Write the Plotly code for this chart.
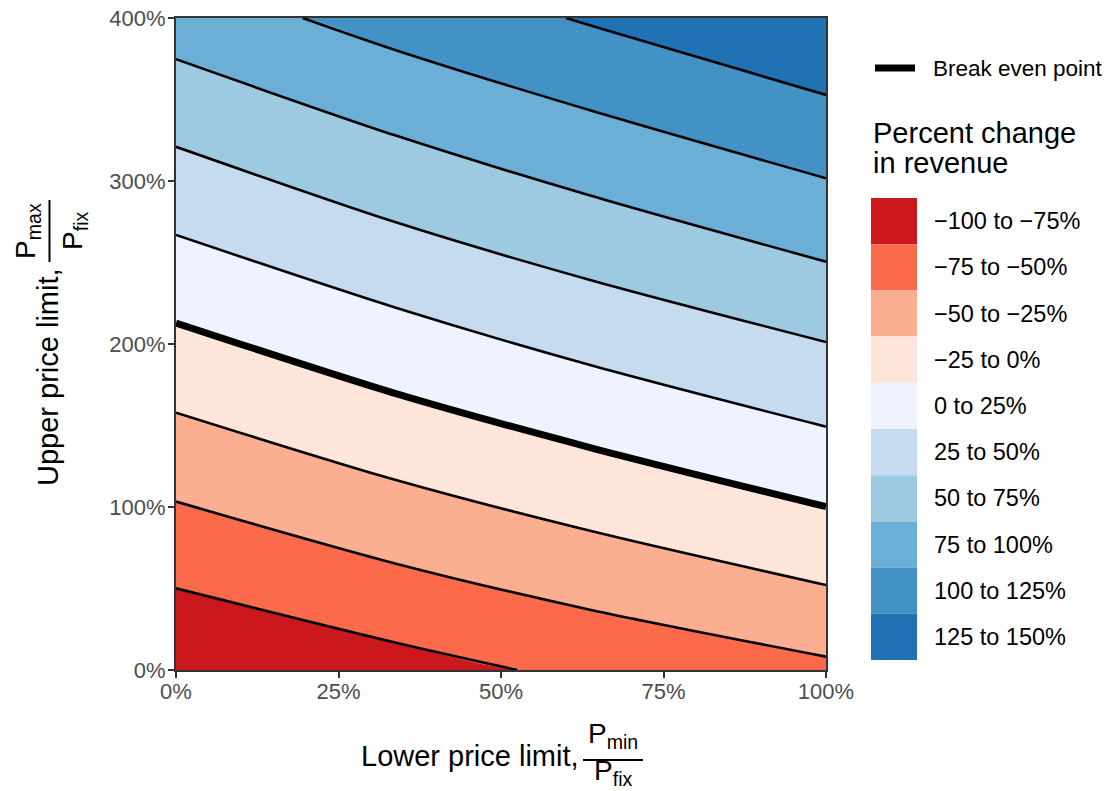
import plotly.graph_objects as go

# ---------------- data ----------------
# contour levels (percent change in revenue)
levels = [-75, -50, -25, 0, 25, 50, 75, 100, 125]

# contour lines: x = lower price limit (%), y = upper price limit (%)
line_m75_x = [0, 33.7, 52.5]
line_m75_y = [50.1, 16.9, 0.0]
line_m50_x = [0, 33.7, 63.7, 100]
line_m50_y = [103.3, 65.4, 37.0, 8.2]
line_m25_x = [0, 33.7, 63.7, 100]
line_m25_y = [157.9, 116.7, 85.4, 52.1]
line_0_x = [0, 33.7, 63.7, 100]
line_0_y = [212.9, 169.7, 136.5, 100.2]
line_25_x = [0, 33.7, 63.7, 100]
line_25_y = [266.9, 222.4, 187.1, 149.3]
line_50_x = [0, 33.7, 63.7, 100]
line_50_y = [321.0, 274.8, 239.3, 201.2]
line_75_x = [0, 33.7, 63.7, 100]
line_75_y = [374.7, 328.0, 291.1, 250.5]
line_100_x = [19.5, 33.7, 63.7, 100]
line_100_y = [400.0, 380.4, 343.4, 301.7]
line_125_x = [60.0, 65.2, 100]
line_125_y = [400.0, 393.7, 352.8]

band_labels = ["\u2212100 to \u221275%", "\u221275 to \u221250%", "\u221250 to \u221225%",
               "\u221225 to 0%", "0 to 25%", "25 to 50%", "50 to 75%",
               "75 to 100%", "100 to 125%", "125 to 150%"]
band_colors = ["#CB181D", "#FB6A4A", "#FCAE91", "#FEE5D9", "#EFF3FF",
               "#C6DBEF", "#9ECAE1", "#6BAED6", "#4292C6", "#2171B5"]

x_ticks = [0, 25, 50, 75, 100]
x_tick_text = ["0%", "25%", "50%", "75%", "100%"]
y_ticks = [0, 100, 200, 300, 400]
y_tick_text = ["0%", "100%", "200%", "300%", "400%"]
X_MIN, X_MAX = 0, 100
Y_MIN, Y_MAX = 0, 400

lines = [
    (line_m75_x, line_m75_y), (line_m50_x, line_m50_y), (line_m25_x, line_m25_y),
    (line_0_x, line_0_y), (line_25_x, line_25_y), (line_50_x, line_50_y),
    (line_75_x, line_75_y), (line_100_x, line_100_y), (line_125_x, line_125_y),
]

FONT = "Liberation Sans, Arial, Helvetica, sans-serif"


def clipped(xs, ys):
    """Extend a contour line along the panel frame so it spans the full x range."""
    xs, ys = list(xs), list(ys)
    if xs[0] > X_MIN:
        xs = [X_MIN] + xs
        ys = [ys[0]] + ys
    if xs[-1] < X_MAX:
        xs = xs + [X_MAX]
        ys = ys + [ys[-1]]
    return xs, ys


fig = go.Figure()

# base fill (top band)
fig.add_trace(go.Scatter(x=[X_MIN, X_MAX], y=[Y_MAX, Y_MAX], mode="lines",
                         line=dict(width=0, color=band_colors[-1]),
                         fill="tozeroy", fillcolor=band_colors[-1],
                         showlegend=False, hoverinfo="skip"))

# fill below each contour line with the colour of the band below it (top -> bottom)
for i in range(len(levels) - 1, -1, -1):
    xs, ys = clipped(*lines[i])
    fig.add_trace(go.Scatter(x=xs, y=ys, mode="lines",
                             line=dict(width=0, shape="spline", smoothing=0.8,
                                       color=band_colors[i]),
                             fill="tozeroy", fillcolor=band_colors[i],
                             showlegend=False, hoverinfo="skip"))

# contour strokes
for lev, (xs, ys) in zip(levels, lines):
    fig.add_trace(go.Scatter(x=xs, y=ys, mode="lines",
                             line=dict(color="black", width=7 if lev == 0 else 2.6,
                                       shape="spline", smoothing=0.8),
                             showlegend=False, hoverinfo="skip"))


# pixel positions below are screenshot coordinates; plot panel spans x 176..826, y 18..670
def px_x(p):
    return (p - 176) / 650


def px_y(p):
    return (670 - p) / 652


shapes = []
annotations = []


def note(text, x, y, size, xanchor="center", angle=0):
    annotations.append(dict(text=text, x=px_x(x), y=px_y(y), xref="paper", yref="paper",
                            textangle=angle, showarrow=False, xanchor=xanchor,
                            yanchor="middle", align="left",
                            font=dict(size=size, color="black", family=FONT)))


# y-axis title
note("Upper price limit,", 48, 377, 29, angle=-90)
note("P<sub>max</sub>", 27, 231, 28, angle=-90)
note("P<sub>fix</sub>", 74, 231, 28, angle=-90)
shapes.append(dict(type="line", xref="paper", yref="paper", x0=px_x(49.5), x1=px_x(49.5),
                   y0=px_y(200), y1=px_y(262), line=dict(color="black", width=2)))

# x-axis title
note("Lower price limit,", 470, 756, 29)
note("P<sub>min</sub>", 613, 735, 28)
note("P<sub>fix</sub>", 613, 772, 28)
shapes.append(dict(type="line", xref="paper", yref="paper", x0=px_x(583), x1=px_x(643),
                   y0=px_y(760), y1=px_y(760), line=dict(color="black", width=2)))

# legend: break even
shapes.append(dict(type="line", xref="paper", yref="paper", x0=px_x(875), x1=px_x(915),
                   y0=px_y(68), y1=px_y(68), line=dict(color="black", width=7)))
note("Break even point", 931, 68, 22.5, xanchor="left")

# legend: title
note("Percent change", 871, 133, 29, xanchor="left")
note("in revenue", 871, 163, 29, xanchor="left")

# legend: colour keys
key_top = 198
key_h = 46.2
for i, (lab, col) in enumerate(zip(band_labels, band_colors)):
    t = key_top + key_h * i
    shapes.append(dict(type="rect", xref="paper", yref="paper", x0=px_x(871), x1=px_x(917),
                       y0=px_y(t + key_h), y1=px_y(t), fillcolor=col, line=dict(width=0)))
    note(lab, 932, t + key_h / 2, 23.5, xanchor="left")

axis_common = dict(showgrid=False, zeroline=False, showline=True, mirror=True,
                   linecolor="#333333", linewidth=2, ticks="outside", ticklen=6,
                   tickwidth=2, tickcolor="#333333", tickmode="array",
                   ticklabeloverflow="allow",
                   tickfont=dict(size=22, color="#4D4D4D", family=FONT), automargin=False)

# the page adds an 8px body margin, so the figure is shrunk by 8px on each axis
fig.update_layout(
    width=1107, height=783,
    margin=dict(l=168, r=289, t=10, b=121, autoexpand=False),
    paper_bgcolor="white", plot_bgcolor="white",
    xaxis=dict(range=[X_MIN, X_MAX], tickvals=x_ticks, ticktext=x_tick_text,
               ticklabelstandoff=-5, **axis_common),
    yaxis=dict(range=[Y_MIN, Y_MAX], tickvals=y_ticks, ticktext=y_tick_text,
               ticklabelstandoff=-2, **axis_common),
    shapes=shapes, annotations=annotations, showlegend=False,
    font=dict(family=FONT),
)

fig.write_html("out.html")
